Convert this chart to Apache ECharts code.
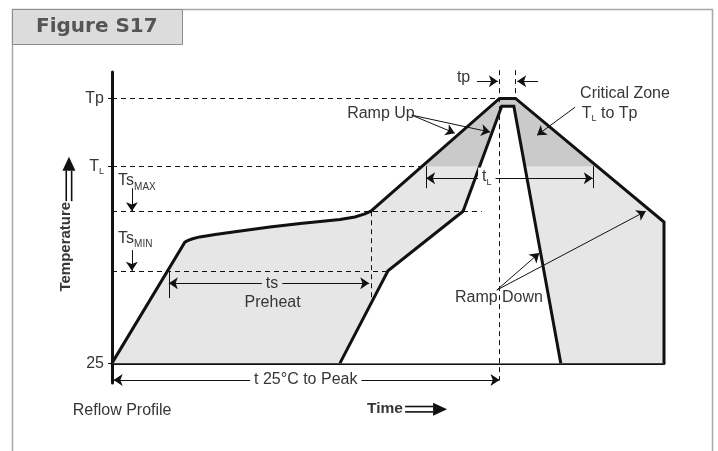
<!DOCTYPE html>
<html>
<head>
<meta charset="utf-8">
<script src="https://cdn.jsdelivr.net/npm/echarts@6/dist/echarts.min.js"></script>
<style>
  html, body { margin: 0; background: #fff; }
  #main { width: 718px; height: 451px; }
</style>
</head>
<body>
<div id="main"></div>
<script>
// schematic units: x = time (0..100), y = temperature above 25 (100 = Tp)
var TP = 100, TL = 74.4, TS_MAX = 57.4, TS_MIN = 34.9;

// reflow profile envelopes
var outerProfile = [[0, 0], [13.2, 45.7], [13.8, 46.4], [14.6, 47.0], [15.9, 47.7], [18.7, 48.6], [22.6, 49.7],
  [28.6, 51.4], [34.1, 52.8], [41.3, 54.3], [44.0, 55.2], [45.8, 56.4], [46.9, TS_MAX],
  [70.2, TP], [73.1, TP], [100, 53.3], [100, 0]];
var innerProfile = [[41.3, 0], [50.0, TS_MIN], [63.6, TS_MAX], [70.6, 97.1], [72.8, 97.1], [81.3, 0]];

// y axis marks
var yMarks = [0, TL, TP];
var yMarkLabels = ['25', '{m|T}{s|L}', 'Tp'];

// dashed guide lines
var guides = [
  [[0, TP], [70.2, TP]],
  [[0, TL], [56.2, TL]],
  [[0, TS_MAX], [67, TS_MAX]],
  [[0, TS_MIN], [50, TS_MIN]],
  [[46.9, TS_MAX], [46.9, 23.8]],
  [[70.2, 110.7], [70.2, -6.4]],
  [[73.1, 110.7], [73.1, TP]]
];
// single-headed arrows
var arrows = [
  [[66.1, 106.5], [69.9, 106.5]],
  [[77.2, 106.5], [73.4, 106.5]],
  [[3.6, 66.1], [3.6, TS_MAX]],
  [[3.6, 42.7], [3.6, TS_MIN]],
  [[54.3, 93.7], [62.1, 86.9]],
  [[54.3, 93.7], [68.5, 87.3]],
  [[83.9, 96.7], [77.0, 86.1]],
  [[69.7, 27.6], [77.4, 41.6]],
  [[69.7, 27.6], [96.7, 57.4]]
];
// double-headed spans and their end ticks
var spans = [
  [[10.3, 30.2], [46.6, 30.2]],
  [[56.9, 69.9], [87.1, 69.9]],
  [[0.3, -6.4], [70.2, -6.4]]
];
var ticks = [
  [[10.3, TS_MIN], [10.3, 24.6]],
  [[56.9, TL], [56.9, 66.1]],
  [[87.1, TL], [87.1, 66.1]]
];

var INK = '#111';
var TXT = '#363636';
var FONT = '"Liberation Sans", Arial, sans-serif';

var notes = [
  { text: '{m|Ts}{x|MAX}', at: [1.1, 69.1], align: 'left' },
  { text: '{m|Ts}{x|MIN}', at: [1.1, 47.2], align: 'left' },
  { text: 'tp', at: [64.9, 107.7], align: 'right' },
  { text: 'Critical Zone', at: [84.8, 102.0], align: 'left' },
  { text: '{m|T}{s|L}{m| to Tp}', at: [85.1, 94.4], align: 'left' },
  { text: 'Ramp Up', at: [42.6, 94.4], align: 'left' },
  { text: '{m|t}{s|L}', at: [67.9, 70.3], align: 'center', bg: '#fff' },
  { text: 'ts', at: [29.0, 30.2], align: 'center', bg: '#e6e6e6' },
  { text: 'Preheat', at: [29.1, 23.0], align: 'center' },
  { text: 't 25°C to Peak', at: [35.1, -6.2], align: 'center', bg: '#fff' },
  { text: 'Ramp Down', at: [70.1, 24.6], align: 'center' },
  { text: 'Reflow Profile', at: [-7.1, -17.8], align: 'left' },
  { text: 'Time', at: [52.7, -17.2], align: 'right', bold: true, size: 15.5 },
  { text: 'Temperature', at: [-8.4, 44.0], align: 'center', bold: true, size: 15, rotate: Math.PI / 2 }
];
// axis-title double arrows
var bigArrows = [
  { from: [-7.8, 61.2], to: [-7.8, 78.0] },
  { from: [53.1, -17.4], to: [60.7, -17.4] }
];

var RICH = {
  m: { fontSize: 16, fontFamily: FONT, color: TXT, fill: TXT },
  s: { fontSize: 9, fontFamily: FONT, color: TXT, fill: TXT, padding: [10, 0, 0, 0] },
  x: { fontSize: 10, fontFamily: FONT, color: TXT, fill: TXT, padding: [13, 0, 0, 0] }
};

function clipAbove(pts, level) {
  var out = [];
  for (var i = 0; i < pts.length; i++) {
    var a = pts[i], b = pts[(i + 1) % pts.length];
    if (a[1] >= level) out.push(a);
    if ((a[1] >= level) !== (b[1] >= level)) {
      var t = (level - a[1]) / (b[1] - a[1]);
      out.push([a[0] + t * (b[0] - a[0]), level]);
    }
  }
  return out;
}

function toLines(list) {
  return list.map(function (c) { return { coords: c }; });
}

var chart = echarts.init(document.getElementById('main'));

var option = {
  animation: false,
  title: {
    text: 'Figure S17',
    left: 12,
    top: 9,
    padding: [6, 25, 6, 24],
    backgroundColor: '#dcdcdc',
    borderColor: '#8c8c8c',
    borderWidth: 1,
    textStyle: { fontSize: 20, fontWeight: 'bold', color: '#555', fontFamily: '"DejaVu Sans", sans-serif', lineHeight: 24 }
  },
  graphic: [{
    type: 'polyline',
    z: 0,
    shape: { points: [[12.5, 451], [12.5, 9.5], [712.5, 9.5], [712.5, 451]] },
    style: { stroke: '#a8a8a8', lineWidth: 1.5, fill: null }
  }],
  grid: { left: 112, right: 54, top: 72, bottom: 68 },
  xAxis: {
    type: 'value', min: 0, max: 100,
    axisLine: { onZero: true, lineStyle: { color: INK, width: 3 } },
    axisTick: { show: false }, axisLabel: { show: false }, splitLine: { show: false }
  },
  yAxis: {
    type: 'value', min: -7.5, max: 110,
    axisLine: { show: true, lineStyle: { color: INK, width: 3 } },
    axisTick: { show: true, customValues: yMarks, length: 4, lineStyle: { color: INK, width: 1 } },
    axisLabel: {
      customValues: yMarks,
      margin: 8,
      fontSize: 16,
      fontFamily: FONT,
      color: TXT,
      formatter: function (v) { return yMarkLabels[yMarks.indexOf(v)]; },
      rich: RICH
    },
    splitLine: { show: false }
  },
  series: [
    {
      // shaded areas
      type: 'custom', z: 1, silent: true,
      data: [[0, 0]],
      renderItem: function (params, api) {
        function pts(arr) { return arr.map(function (p) { return api.coord(p); }); }
        return {
          type: 'group',
          children: [
            { type: 'polygon', shape: { points: pts(outerProfile) }, style: { fill: '#e6e6e6' } },
            { type: 'polygon', shape: { points: pts(clipAbove(outerProfile, TL)) }, style: { fill: '#cacaca' } },
            { type: 'polygon', shape: { points: pts(innerProfile) }, style: { fill: '#fff' } }
          ]
        };
      }
    },
    {
      type: 'lines', coordinateSystem: 'cartesian2d', z: 2, clip: false, silent: true,
      symbol: 'none',
      lineStyle: { color: INK, width: 1, type: [5, 4], opacity: 1 },
      data: toLines(guides)
    },
    {
      // profile outlines
      type: 'custom', z: 3, silent: true,
      data: [[0, 0]],
      renderItem: function (params, api) {
        function pts(arr) { return arr.map(function (p) { return api.coord(p); }); }
        return {
          type: 'group',
          children: [
            { type: 'polyline', shape: { points: pts(outerProfile) }, style: { stroke: INK, lineWidth: 3, fill: null, lineJoin: 'miter' } },
            { type: 'polyline', shape: { points: pts(innerProfile) }, style: { stroke: INK, lineWidth: 3, fill: null, lineJoin: 'miter' } }
          ]
        };
      }
    },
    {
      type: 'lines', coordinateSystem: 'cartesian2d', z: 4, clip: false, silent: true,
      symbol: 'none',
      lineStyle: { color: INK, width: 1, opacity: 1 },
      data: toLines(ticks)
    },
    {
      type: 'lines', coordinateSystem: 'cartesian2d', z: 4, clip: false, silent: true,
      symbol: ['none', 'arrow'], symbolSize: 9,
      lineStyle: { color: INK, width: 1, opacity: 1 },
      data: toLines(arrows)
    },
    {
      type: 'lines', coordinateSystem: 'cartesian2d', z: 4, clip: false, silent: true,
      symbol: ['arrow', 'arrow'], symbolSize: 9,
      lineStyle: { color: INK, width: 1, opacity: 1 },
      data: toLines(spans)
    },
    {
      // labels
      type: 'custom', z: 5, silent: true, clip: false,
      data: notes.map(function (n) { return n.at; }),
      renderItem: function (params, api) {
        var n = notes[params.dataIndex];
        var p = api.coord(n.at);
        return {
          type: 'text',
          x: p[0], y: p[1],
          rotation: n.rotate || 0,
          style: {
            text: n.text,
            rich: RICH,
            fill: TXT,
            fontSize: n.size || 16,
            fontWeight: n.bold ? 'bold' : 'normal',
            fontFamily: FONT,
            align: n.align,
            verticalAlign: 'middle',
            backgroundColor: n.bg || null,
            padding: n.bg ? [0, 4] : 0
          }
        };
      }
    },
    {
      // axis title arrows
      type: 'custom', z: 5, silent: true, clip: false,
      data: bigArrows.map(function (a) { return a.from; }),
      renderItem: function (params, api) {
        var a = bigArrows[params.dataIndex];
        var p0 = api.coord(a.from), p1 = api.coord(a.to);
        var dx = p1[0] - p0[0], dy = p1[1] - p0[1];
        var len = Math.sqrt(dx * dx + dy * dy);
        var ux = dx / len, uy = dy / len, nx = -uy, ny = ux;
        var hb = [p1[0] - ux * 14, p1[1] - uy * 14];
        var sh = 2.7;
        return {
          type: 'group',
          children: [
            { type: 'line', shape: { x1: p0[0] + nx * sh, y1: p0[1] + ny * sh, x2: hb[0] + nx * sh, y2: hb[1] + ny * sh }, style: { stroke: INK, lineWidth: 1.6 } },
            { type: 'line', shape: { x1: p0[0] - nx * sh, y1: p0[1] - ny * sh, x2: hb[0] - nx * sh, y2: hb[1] - ny * sh }, style: { stroke: INK, lineWidth: 1.6 } },
            { type: 'polygon', shape: { points: [[p1[0], p1[1]], [hb[0] + nx * 6.5, hb[1] + ny * 6.5], [hb[0] - nx * 6.5, hb[1] - ny * 6.5]] }, style: { fill: INK } }
          ]
        };
      }
    }
  ]
};

chart.setOption(option);
</script>
</body>
</html>
